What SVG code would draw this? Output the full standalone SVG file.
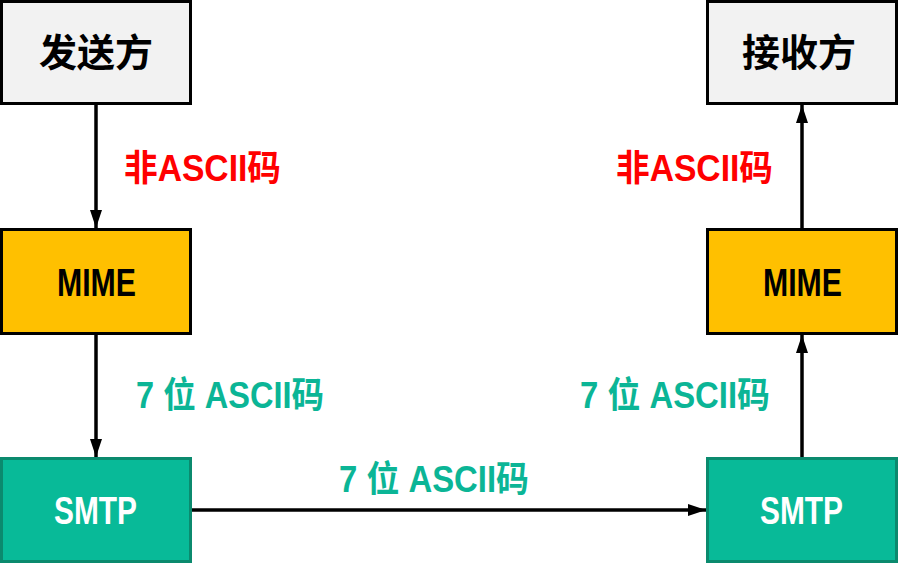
<svg xmlns="http://www.w3.org/2000/svg" width="898" height="563" viewBox="0 0 898 563">
<defs>
<marker id="arr" viewBox="0 0 18 12" refX="18" refY="6" markerWidth="18" markerHeight="12" markerUnits="userSpaceOnUse" orient="auto">
<path d="M0,0 L18,6 L0,12 Z" fill="#000"/>
</marker>
</defs>
<style>
.gray{fill:#F2F2F2;stroke:#000;stroke-width:3}
.mime{fill:#FFC000;stroke:#000;stroke-width:3}
.smtp{fill:#08BA98;stroke:#0B8A6E;stroke-width:3}
.t{font-family:"Liberation Sans","Noto Sans CJK SC",sans-serif;font-weight:bold}
.title{font-size:38px;fill:#000;text-anchor:middle;dominant-baseline:central}
.box{font-size:38px;dominant-baseline:central}
.red{font-size:36px;fill:#FF0000}
.teal{font-size:36px;fill:#0BB596}
.conn{stroke:#000;stroke-width:3.5;fill:none;marker-end:url(#arr)}
</style>
<g id="sender"><rect class="gray" x="1.5" y="1.5" width="189" height="102"/><text class="t title" x="96" y="53">发送方</text></g>
<g id="receiver"><rect class="gray" x="707.5" y="1.5" width="189" height="102"/><text class="t title" x="799" y="53">接收方</text></g>
<g id="mime-left"><rect class="mime" x="1.5" y="229.5" width="189" height="104"/><text class="t box" x="57" y="283" textLength="79" lengthAdjust="spacingAndGlyphs" fill="#000">MIME</text></g>
<g id="mime-right"><rect class="mime" x="707.5" y="229.5" width="189" height="104"/><text class="t box" x="763" y="283" textLength="79" lengthAdjust="spacingAndGlyphs" fill="#000">MIME</text></g>
<g id="smtp-left"><rect class="smtp" x="1.5" y="458.5" width="189" height="103"/><text class="t box" x="54" y="511" textLength="83" lengthAdjust="spacingAndGlyphs" fill="#fff">SMTP</text></g>
<g id="smtp-right"><rect class="smtp" x="707.5" y="458.5" width="189" height="103"/><text class="t box" x="760" y="511" textLength="83" lengthAdjust="spacingAndGlyphs" fill="#fff">SMTP</text></g>
<g id="connectors">
<line class="conn" x1="96" y1="105" x2="96" y2="228"/>
<line class="conn" x1="96" y1="335" x2="96" y2="457"/>
<line class="conn" x1="192" y1="510" x2="706" y2="510"/>
<line class="conn" x1="802" y1="457" x2="802" y2="335"/>
<line class="conn" x1="802" y1="228" x2="802" y2="105"/>
</g>
<g id="labels">
<text class="t red" x="124" y="181" textLength="157" lengthAdjust="spacingAndGlyphs">非ASCII码</text>
<text class="t red" x="616" y="181" textLength="157" lengthAdjust="spacingAndGlyphs">非ASCII码</text>
<text class="t teal" x="136" y="408" textLength="188" lengthAdjust="spacingAndGlyphs">7 位 ASCII码</text>
<text class="t teal" x="580" y="408" textLength="190" lengthAdjust="spacingAndGlyphs">7 位 ASCII码</text>
<text class="t teal" x="339" y="492" textLength="190" lengthAdjust="spacingAndGlyphs">7 位 ASCII码</text>
</g>
</svg>
